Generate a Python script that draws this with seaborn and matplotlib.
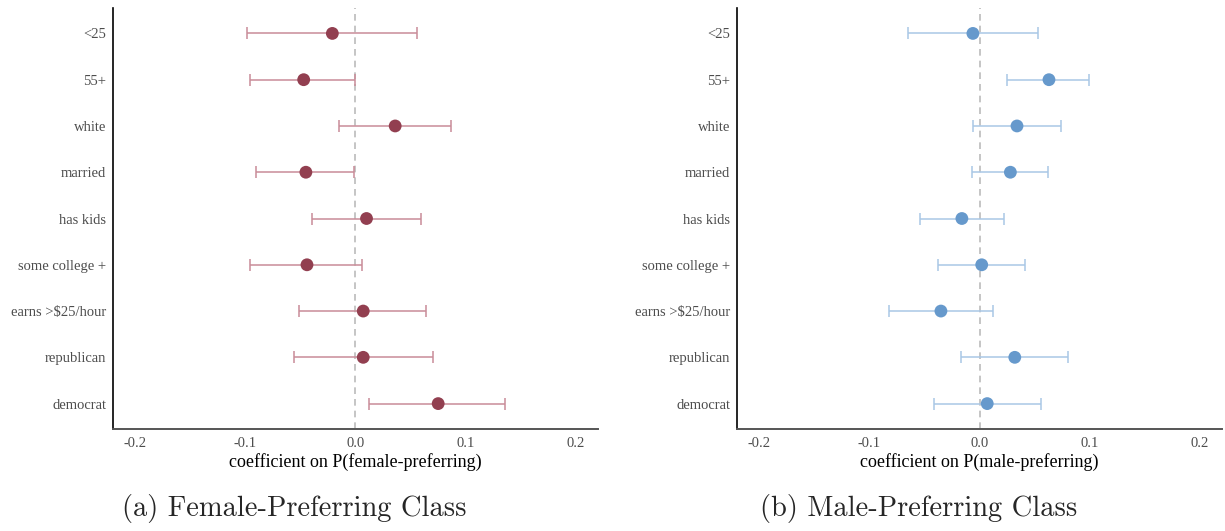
import numpy as np
import pandas as pd
import matplotlib
matplotlib.use("Agg")
import matplotlib.pyplot as plt
import seaborn as sns

sns.set_style("white")
plt.rcParams['font.family'] = ['Liberation Serif', 'DejaVu Serif']

# 变量名称（从上到下）
variables = ["<25", "55+", "white", "married", "has kids", "some college +",
             "earns >$25/hour", "republican", "democrat"]

# 女性偏好类
female_coef = [-0.021, -0.047, 0.036, -0.045, 0.010, -0.044, 0.007, 0.007, 0.075]
female_lo = [-0.098, -0.096, -0.015, -0.090, -0.039, -0.096, -0.051, -0.056, 0.012]
female_hi = [0.056, 0.000, 0.087, -0.001, 0.059, 0.006, 0.064, 0.070, 0.136]

# 男性偏好类
male_coef = [-0.006, 0.063, 0.034, 0.028, -0.016, 0.002, -0.035, 0.032, 0.007]
male_lo = [-0.065, 0.025, -0.006, -0.007, -0.054, -0.038, -0.082, -0.017, -0.041]
male_hi = [0.053, 0.099, 0.074, 0.062, 0.022, 0.041, 0.012, 0.080, 0.056]

x_ticks = [-0.2, -0.1, 0.0, 0.1, 0.2]
x_ticklabels = ["-0.2", "-0.1", "0.0", "0.1", "0.2"]

panels = [
    (female_coef, female_lo, female_hi, "#923F50", "#C98C98",
     "coefficient on P(female-preferring)", "(a) Female-Preferring Class"),
    (male_coef, male_lo, male_hi, "#6699CC", "#A9C7E6",
     "coefficient on P(male-preferring)", "(b) Male-Preferring Class"),
]

fig = plt.figure(figsize=(12.25, 5.31), dpi=100)
lefts = [0.0922, 0.6016]
cap_x = [0.24, 0.75]

for (coef, lo, hi, pcol, ecol, xlab, cap), left, cx in zip(panels, lefts, cap_x):
    ax = fig.add_axes([left, 0.192, 0.396, 0.793])
    df = pd.DataFrame({"var": variables, "coef": coef, "lo": lo, "hi": hi})
    df["pos"] = np.arange(len(df))

    ax.axvline(0, color="#BBBBBB", ls=(0, (4, 3)), lw=1.2, zorder=1)
    ax.errorbar(df["coef"], df["pos"],
                xerr=[df["coef"] - df["lo"], df["hi"] - df["coef"]],
                fmt="none", ecolor=ecol, elinewidth=1.1, capsize=4.3,
                capthick=1.1, zorder=2)
    sns.scatterplot(data=df, x="coef", y="pos", color=pcol, s=85,
                    edgecolor="none", ax=ax, zorder=3, legend=False)

    ax.set_yticks(df["pos"])
    ax.set_yticklabels(df["var"])
    ax.set_ylim(len(df) - 0.45, -0.55)
    ax.set_xlim(-0.22, 0.22)
    ax.set_xticks(x_ticks)
    ax.set_xticklabels(x_ticklabels)
    ax.set_ylabel("")
    ax.set_xlabel(xlab, fontsize=13, color="black", labelpad=2)

    for s in ["top", "right"]:
        ax.spines[s].set_visible(False)
    ax.spines["left"].set_color("black")
    ax.spines["left"].set_linewidth(1.2)
    ax.spines["bottom"].set_color("#555555")
    ax.spines["bottom"].set_linewidth(1.4)
    ax.tick_params(axis="both", length=3, width=0.8, color="#555555",
                   labelcolor="#4D4D4D", labelsize=10.5, pad=2)
    ax.tick_params(axis="x", length=4)

    fig.text(cx, 0.015, cap, ha="center", va="bottom",
             fontsize=20.5, family=["cmr10", "DejaVu Serif"])

plt.savefig("out.png", dpi=100)
